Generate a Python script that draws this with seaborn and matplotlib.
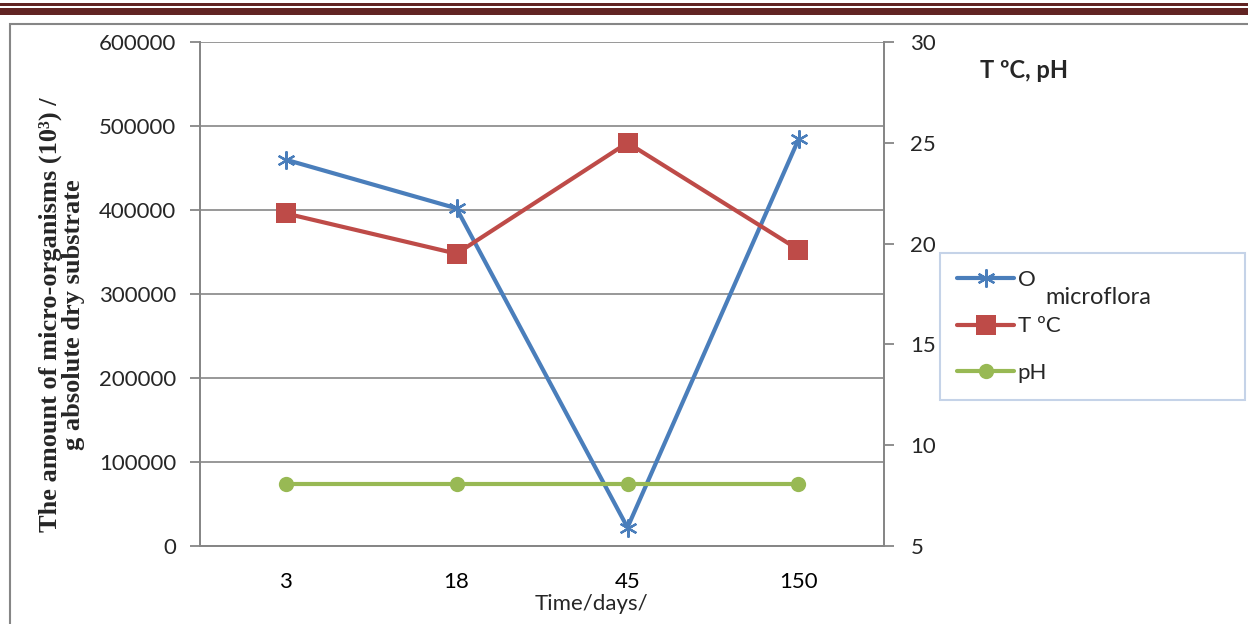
import pandas as pd
import matplotlib.pyplot as plt
import seaborn as sns
from matplotlib.patches import Rectangle

days = ["3", "18", "45", "150"]
microflora = [460000, 402000, 22000, 484000]
temperature = [21.5, 19.5, 25.0, 19.7]
ph = [8.1, 8.1, 8.1, 8.1]

blue = "#4A7EBB"
red = "#BE4B48"
green = "#98B954"
grey = "#868686"

sns.set_theme(style="white")
plt.rcParams["font.family"] = ["Lato", "DejaVu Sans"]

data = pd.DataFrame({"day": days, "micro": microflora, "temp": temperature, "ph": ph})

fig = plt.figure(figsize=(12.48, 6.24), dpi=100)
ax = fig.add_axes([200 / 1248, 1 - 546 / 624, 684 / 1248, 504 / 624])
ax2 = ax.twinx()

sns.lineplot(data=data, x="day", y="micro", ax=ax, color=blue, linewidth=3,
             marker=(6, 2, 0), markersize=13, markeredgewidth=1.6,
             markeredgecolor=blue, label="O", legend=False)
sns.lineplot(data=data, x="day", y="temp", ax=ax2, color=red, linewidth=3,
             marker="s", markersize=14, markeredgewidth=0, label="T ºC", legend=False)
sns.lineplot(data=data, x="day", y="ph", ax=ax2, color=green, linewidth=3,
             marker="o", markersize=11, markeredgewidth=0, label="pH", legend=False)

ax.set_xlim(-0.5, 3.5)
ax.set_ylim(0, 600000)
ax.set_yticks(range(0, 600001, 100000))
ax2.set_ylim(5, 30)
ax2.set_yticks(range(5, 31, 5))

ax.set_xticks(range(4))
ax.set_xticklabels(days)
ax.set_xticks([-0.5, 0.5, 1.5, 2.5, 3.5], minor=True)
ax.tick_params(axis="x", which="major", length=0, labelsize=16, pad=19, colors="black")
ax.tick_params(axis="x", which="minor", length=8, width=1.3, color=grey, direction="out")
ax.tick_params(axis="y", length=7, width=1.3, color=grey, labelsize=16, pad=10, direction="out", left=True)
ax2.tick_params(axis="y", length=7, width=1.3, color=grey, labelsize=16, pad=12, direction="out", right=True)

ax.yaxis.grid(True, color=grey, linewidth=1.2)
ax.set_axisbelow(True)
for a in (ax, ax2):
    for s in a.spines.values():
        s.set_visible(False)
    for s in ("left", "right", "bottom"):
        a.spines[s].set_visible(True)
        a.spines[s].set_color(grey)
        a.spines[s].set_linewidth(1.3)

ax.set_xlabel("Time/days/", fontsize=16)
ax.xaxis.set_label_coords(0.573, -0.095)
ax.set_ylabel("")
ax2.set_ylabel("")

fig.text(62 / 1248, 1 - 315 / 624,
         "The amount of micro-organisms (10³) /\ng absolute dry substrate",
         rotation=90, ha="center", va="center", multialignment="center",
         fontsize=19, fontweight="bold", family=["Liberation Serif", "DejaVu Serif"],
         linespacing=1.0)
fig.text(980 / 1248, 1 - 70 / 624, "T ºC, pH", fontsize=17, fontweight="bold",
         ha="left", va="center")

handles = ax.get_lines()[:1] + ax2.get_lines()[:2]
leg = fig.legend(handles, ["O", "T ºC", "pH"], loc="upper left",
                 bbox_to_anchor=(940 / 1248, 1 - 397 / 624, 305 / 1248, 144 / 624),
                 mode="expand", fontsize=16,
                 frameon=True, fancybox=False, handlelength=2.6, handletextpad=0.15,
                 labelspacing=1.2, borderpad=0.75, borderaxespad=0)
leg.get_frame().set_edgecolor("#C5D3E8")
leg.get_frame().set_linewidth(1.5)
leg.get_frame().set_alpha(1)
fig.text(1045 / 1248, 1 - 297 / 624, "microflora", fontsize=17, ha="left", va="center",
         zorder=10)

# page border and header bars
fig.patches.append(Rectangle((10 / 1248, -0.1), 1.2, 1 - 24 / 624 + 0.1, transform=fig.transFigure,
                             fill=False, edgecolor=grey, linewidth=1.5))
fig.patches.append(Rectangle((0, 1 - 5.5 / 624), 1, 2.5 / 624, transform=fig.transFigure,
                             facecolor="#622423", edgecolor="none"))
fig.patches.append(Rectangle((0, 1 - 15 / 624), 1, 7 / 624, transform=fig.transFigure,
                             facecolor="#622423", edgecolor="none"))

fig.savefig("out.png", dpi=100)
